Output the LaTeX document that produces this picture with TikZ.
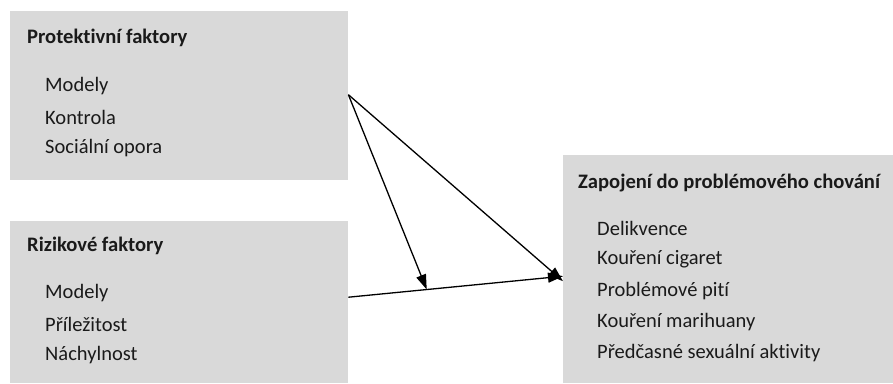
\documentclass[tikz,border=0pt]{standalone}
\usepackage{fontspec}
\setmainfont{Carlito}[Ligatures=NoCommon]
\usetikzlibrary{arrows.meta,calc}
\definecolor{boxgray}{HTML}{D9D9D9}
\definecolor{txt}{HTML}{1A1A1A}
\tikzset{
  box/.style={fill=boxgray, draw=none, anchor=north west, inner sep=0pt},
  title/.style={anchor=west, inner sep=0pt, text=txt, font=\fontsize{20.6}{24}\selectfont\bfseries},
  item/.style={anchor=west, inner sep=0pt, text=txt, font=\fontsize{20.5}{24}\selectfont},
  conn/.style={line width=1.3pt, -{Triangle[length=15pt,width=10pt]}}
}
\begin{document}
\begin{tikzpicture}[x=1pt,y=-1pt]
\useasboundingbox (0,0) rectangle (893,383);
\node[box, minimum width=338pt, minimum height=169pt] (prot) at (10,11) {};
\node[box, minimum width=338pt, minimum height=162pt] (riz) at (10,221) {};
\node[box, minimum width=330pt, minimum height=228pt] (zap) at (563,155) {};

\node[title] (t1) at (27,38) {Protektivní faktory};
\node[item] (p1) at (45,86) {Modely};
\node[item] (p2) at (45,117) {Kontrola};
\node[item] (p3) at (45,148) {Sociální opora};

\node[title] (t2) at (27,246) {Rizikové faktory};
\node[item] (r1) at (45,293) {Modely};
\node[item] (r2) at (45,324) {Příležitost};
\node[item] (r3) at (45,355) {Náchylnost};

\node[title] (t3) at (578,183) {Zapojení do problémového chování};
\node[item] (z1) at (597,228) {Delikvence};
\node[item] (z2) at (597,259) {Kouření cigaret};
\node[item] (z3) at (597,291) {Problémové pití};
\node[item] (z4) at (597,322) {Kouření marihuany};
\node[item] (z5) at (597,353) {Předčasné sexuální aktivity};

\coordinate (a1) at ([yshift=1pt]prot.east);
\coordinate (e1) at ([yshift=-12pt]zap.west);
\coordinate (a2) at ([yshift=5pt]riz.east);
\coordinate (e2) at ([yshift=-7pt]zap.west);
\coordinate (m) at ($(a2)!0.365!(e2)$);

\draw[conn] (a1) -- (e1);
\draw[conn] (a2) -- (e2);
\draw[conn] (a1) -- (m);
\end{tikzpicture}
\end{document}
